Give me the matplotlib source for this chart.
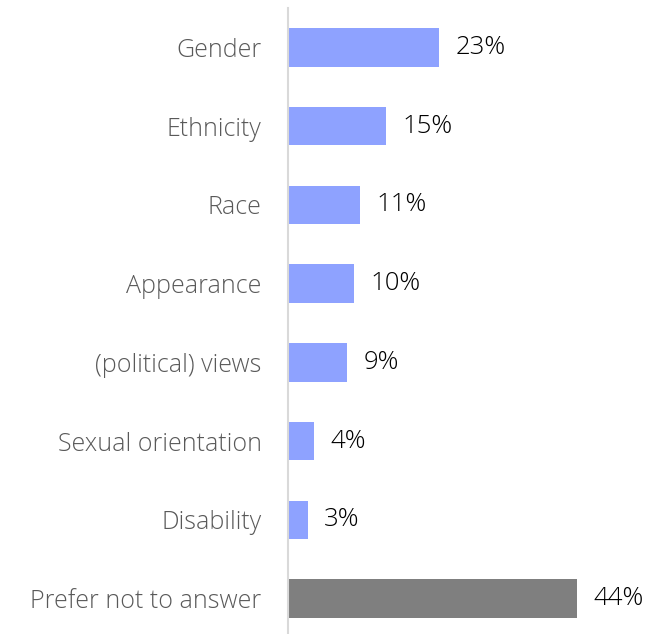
import matplotlib.pyplot as plt

categories = ["Gender", "Ethnicity", "Race", "Appearance", "(political) views",
              "Sexual orientation", "Disability", "Prefer not to answer"]
values = [23, 15, 11, 10, 9, 4, 3, 44]
colors = ["#8EA2FF"] * 7 + ["#7F7F7F"]

plt.rcParams["font.family"] = ["Open Sans", "DejaVu Sans"]

fig = plt.figure(figsize=(6.49, 6.34), dpi=100)
ax = fig.add_axes([288 / 649, 0, 1 - 288 / 649, 1 - 8 / 634])

y = range(len(categories))
ax.barh(y, values, height=0.49, color=colors)
for i, v in enumerate(values):
    ax.text(v + 2.5, i, f"{v}%", va="center", ha="left", fontsize=18.5,
            color="#000000", fontweight="light")

ax.set_yticks(list(y))
ax.set_yticklabels(categories, fontsize=18, color="#595959", fontweight="light")
ax.tick_params(axis="y", length=0, pad=19)
ax.set_xticks([])
ax.set_xlim(0, 55)
ax.set_ylim(7.45, -0.5)
for s in ["top", "right", "bottom"]:
    ax.spines[s].set_visible(False)
ax.spines["left"].set_color("#D9D9D9")
ax.spines["left"].set_linewidth(1.5)

plt.savefig("out.png", dpi=100)
